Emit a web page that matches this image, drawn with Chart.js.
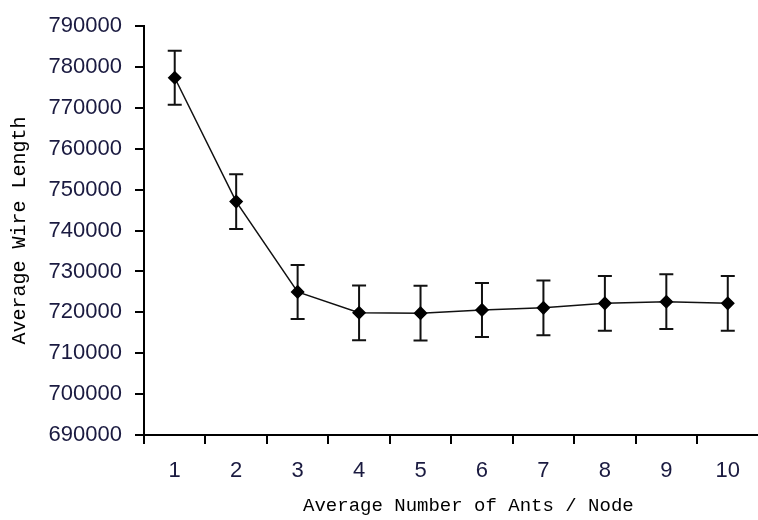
<!DOCTYPE html>
<html>
<head>
<meta charset="utf-8">
<script src="https://cdn.jsdelivr.net/npm/chart.js@4/dist/chart.umd.min.js"></script>
<style>
  html,body{margin:0;padding:0;background:#fff;overflow:hidden;}
  #wrap{width:766px;height:520px;}
</style>
</head>
<body>
<div id="wrap"><canvas id="chart" width="766" height="520"></canvas></div>
<script>
// ---------- data ----------
const antsPerNode = ['1','2','3','4','5','6','7','8','9','10'];
const wireLength = [777400, 747100, 725000, 719900, 719800, 720600, 721100, 722200, 722600, 722200];
const wireErr    = [6600, 6700, 6600, 6700, 6700, 6600, 6700, 6700, 6700, 6700];

// vertical error bars with caps, drawn under the markers
const errorBars = {
  id: 'errorBars',
  beforeDatasetsDraw(chart) {
    const meta = chart.getDatasetMeta(0);
    const y = chart.scales.y;
    const c = chart.ctx;
    c.save();
    c.strokeStyle = '#111';
    c.lineWidth = 2;
    meta.data.forEach((pt, i) => {
      const top = y.getPixelForValue(wireLength[i] + wireErr[i]);
      const bot = y.getPixelForValue(wireLength[i] - wireErr[i]);
      c.beginPath();
      c.moveTo(pt.x, top); c.lineTo(pt.x, bot);
      c.moveTo(pt.x - 7, top); c.lineTo(pt.x + 7, top);
      c.moveTo(pt.x - 7, bot); c.lineTo(pt.x + 7, bot);
      c.stroke();
    });
    c.restore();
  }
};

const ctx = document.getElementById('chart').getContext('2d');
new Chart(ctx, {
  type: 'line',
  data: {
    labels: antsPerNode,
    datasets: [{
      data: wireLength,
      borderColor: '#111',
      borderWidth: 1.5,
      pointStyle: 'rectRot',
      pointRadius: 6,
      pointBackgroundColor: '#000',
      pointBorderColor: '#000',
      tension: 0
    }]
  },
  options: {
    responsive: false, animation: false,
    layout: {padding: {top: 25, right: 0, bottom: 0, left: 0}},
    plugins: {legend: {display: false}, tooltip: {enabled: false}},
    scales: {
      x: {
        offset: true,
        grid: {drawOnChartArea: false, offset: true, tickLength: 9, color: '#000', lineWidth: 2},
        border: {color: '#000', width: 2},
        ticks: {color: '#1a1a40', padding: 14, font: {family: 'Liberation Sans', size: 22}, maxRotation: 0},
        // leading spaces nudge the centred title right, as in the original
        title: {display: true, text: '   Average Number of Ants / Node', color: '#000',
                font: {family: 'Liberation Mono', size: 19}, padding: {top: 4, bottom: 3}},
        afterFit: s => { s.height = 85; }
      },
      y: {
        min: 690000, max: 790000,
        grid: {drawOnChartArea: false, tickLength: 9, color: '#000', lineWidth: 2},
        border: {color: '#000', width: 2},
        ticks: {stepSize: 10000, color: '#1a1a40', padding: 13, font: {family: 'Liberation Sans', size: 22},
                callback: v => String(v)},
        title: {display: true, text: 'Average Wire Length', color: '#000',
                font: {family: 'Liberation Mono', size: 20}, padding: {top: 8, bottom: 0}},
        afterFit: s => { s.width = 144; }
      }
    }
  },
  plugins: [errorBars]
});
</script>
</body>
</html>
